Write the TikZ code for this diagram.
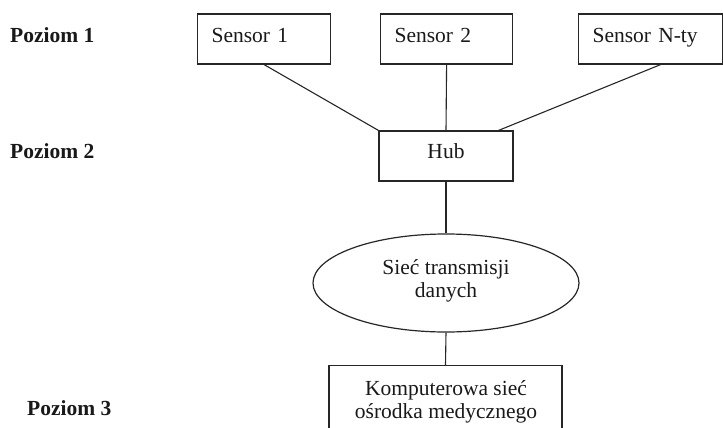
\documentclass[tikz,border=0pt]{standalone}
\usepackage{fontspec}
\setmainfont{Liberation Serif}
\usetikzlibrary{shapes.geometric}
\begin{document}
\begin{tikzpicture}[x=1pt,y=-1pt,
  every node/.style={font=\fontsize{21.5}{23}\selectfont, text=black!90},
  frame/.style={draw=black!85, line width=1.2pt},
  link/.style={draw=black!85, line width=1.1pt},
  sensorbox/.style={frame, rectangle, minimum height=50pt, inner xsep=14pt,
    text height=15pt, text depth=7pt, align=left, anchor=west},
  caption/.style={inner sep=0pt, align=center, anchor=north},
  level/.style={inner sep=0pt, anchor=base west, font=\fontsize{21.5}{23}\selectfont\bfseries}
]
\clip (0,0) rectangle (723,428);

% level labels
\node[level] (p1) at (10,43) {Poziom 1};
\node[level] (p2) at (10,158) {Poziom 2};
\node[level] (p3) at (27,415) {Poziom 3};

% sensors
\node[sensorbox, text width=105pt] (s1) at (197,39) {Sensor 1};
\node[sensorbox, text width=104pt] (s2) at (380,39) {Sensor 2};
\node[sensorbox, text width=116pt] (sn) at (578,39) {Sensor N-ty};

% hub
\node[frame, rectangle, minimum width=134pt, minimum height=50pt,
  text height=15pt, text depth=11pt] (hub) at (446,156) {Hub};

% data transmission network
\node[frame, ellipse, minimum width=266pt, minimum height=98pt, inner sep=0pt] (net) at (446,283) {};
\node[caption] (nettxt) at (446,259) {Sieć transmisji\\danych};

% medical centre network
\node[frame, rectangle, minimum width=233pt, minimum height=80pt, anchor=north] (med) at (445.5,365) {};
\node[caption] (medtxt) at (446,380) {Komputerowa sieć\\ośrodka medycznego};

% connectors
\draw[link] (s1.south) -- (hub.north west);
\draw[link] (s2.south) -- (hub.north);
\draw[link] ([xshift=10pt]sn.south) -- ([xshift=-15pt]hub.north east);
\draw[link] (hub.south) -- (net.north);
\draw[link] (net.south) -- (med.north);
\end{tikzpicture}
\end{document}
